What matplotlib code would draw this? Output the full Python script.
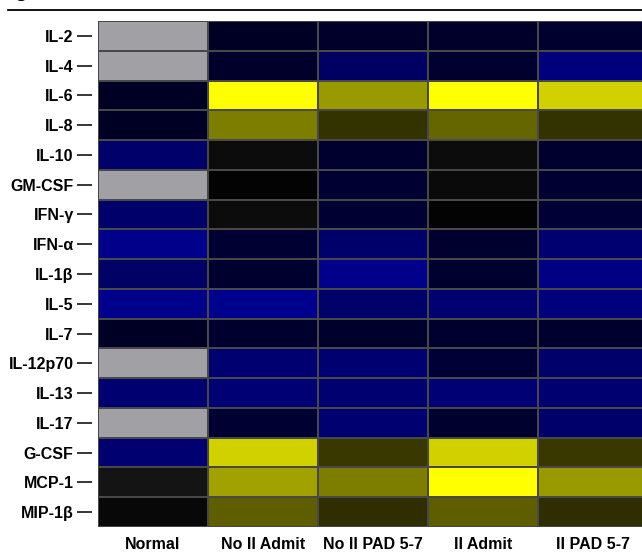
import numpy as np
import matplotlib
matplotlib.use("Agg")
import matplotlib.pyplot as plt
from matplotlib.colors import LinearSegmentedColormap

plt.rcParams['font.family'] = ['Liberation Sans', 'DejaVu Sans']

cytokines = ['IL-2', 'IL-4', 'IL-6', 'IL-8', 'IL-10', 'GM-CSF', 'IFN-γ', 'IFN-α',
             'IL-1β', 'IL-5', 'IL-7', 'IL-12p70', 'IL-13', 'IL-17', 'G-CSF',
             'MCP-1', 'MIP-1β']
groups = ['Normal', 'No II Admit', 'No II PAD 5-7', 'II Admit', 'II PAD 5-7']

# relative level: < -0.02 blue (down), 0..1 yellow (up),
# -0.02..0 near-neutral (dark grey), nan = not detected
normal = [np.nan, np.nan, -0.16, -0.16, -0.43, np.nan, -0.43, -0.55, -0.41,
          -0.55, -0.17, np.nan, -0.45, np.nan, -0.45, -0.0046, -0.0138]
no_ii_admit = [-0.16, -0.18, 1.0, 0.49, -0.011, -0.0177, -0.011, -0.21, -0.20,
               -0.57, -0.20, -0.45, -0.47, -0.21, 0.82, 0.63, 0.37]
no_ii_pad = [-0.18, -0.40, 0.60, 0.20, -0.20, -0.21, -0.21, -0.43, -0.55,
             -0.43, -0.19, -0.45, -0.45, -0.45, 0.22, 0.49, 0.18]
ii_admit = [-0.18, -0.20, 1.0, 0.40, -0.011, -0.012, -0.018, -0.20, -0.20,
            -0.45, -0.20, -0.23, -0.47, -0.20, 0.82, 1.0, 0.37]
ii_pad = [-0.20, -0.50, 0.82, 0.20, -0.20, -0.21, -0.23, -0.45, -0.53,
          -0.50, -0.20, -0.43, -0.45, -0.43, 0.22, 0.60, 0.18]

data = np.array([normal, no_ii_admit, no_ii_pad, ii_admit, ii_pad]).T
data = np.ma.masked_invalid(data)

cmap = LinearSegmentedColormap.from_list(
    'byk', [(0.0, '#0000ff'), (0.49, '#000000'), (0.4999, '#1a1a1a'),
            (0.5, '#000000'), (1.0, '#ffff00')], N=2048)
cmap.set_bad('#a1a1a5')

fig = plt.figure(figsize=(6.42, 5.52), dpi=100)
ax = fig.add_axes([98 / 642, 25 / 552, 550 / 642, 506 / 552])

ax.pcolormesh(data, cmap=cmap, vmin=-1, vmax=1, edgecolors='#484848', linewidth=1.2)
ax.set_xlim(0, len(groups))
ax.set_ylim(len(cytokines), 0)

ax.spines['left'].set_position(('outward', 4))
for s in ax.spines.values():
    s.set_visible(False)

ax.set_yticks(np.arange(len(cytokines)) + 0.5)
ax.set_yticklabels(cytokines, fontsize=11.5, fontweight='bold')
ax.set_xticks(np.arange(len(groups)) + 0.5)
ax.set_xticklabels(groups, fontsize=11.5, fontweight='bold')
ax.tick_params(axis='y', length=11, width=1.1, pad=2.5)
ax.tick_params(axis='x', length=0, pad=7)

# top rule and cut-off panel letter
fig.add_artist(plt.Line2D([8 / 642, 1.0], [1 - 9.5 / 552, 1 - 9.5 / 552],
                          color='black', linewidth=1.3, transform=fig.transFigure))
fig.text(14 / 642, 1 + 3 / 552, 'g', fontsize=15, fontweight='bold', va='baseline')

fig.savefig('out.png', dpi=100)
